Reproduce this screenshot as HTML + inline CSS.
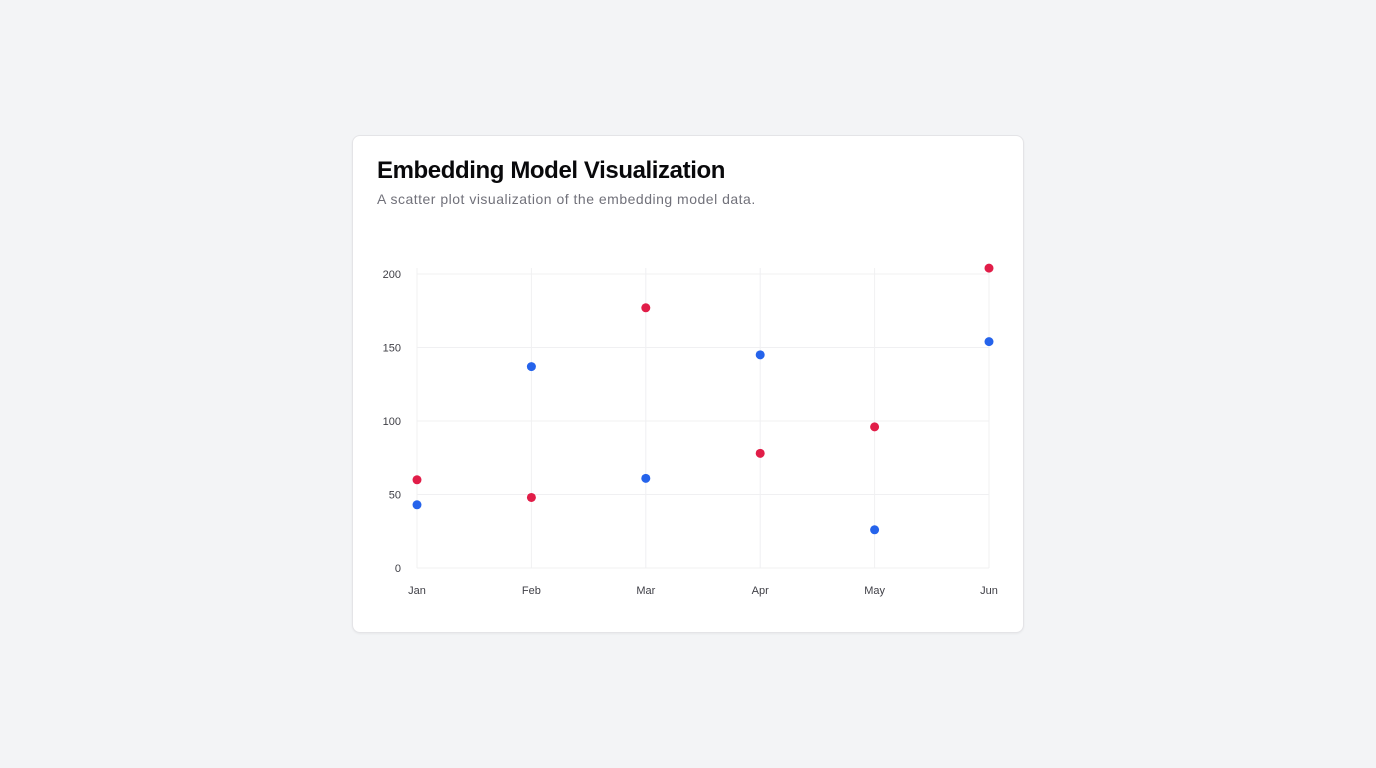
<!DOCTYPE html>
<html><head><meta charset="utf-8"><style>
body{margin:0;width:1376px;height:768px;background:#f3f4f6;font-family:"Liberation Sans",sans-serif;position:relative}
.card{position:absolute;left:352px;top:135px;width:670px;height:496px;background:#fff;border:1px solid #e4e4e7;border-radius:8px;box-shadow:0 1px 2px rgba(0,0,0,.05)}
h1{position:absolute;left:24px;top:21px;margin:0;font-size:24px;font-weight:bold;color:#09090b;letter-spacing:-0.4px}
p{position:absolute;left:24px;top:55px;margin:0;font-size:14px;color:#71717a;letter-spacing:0.5px}
svg{position:absolute;left:0;top:0}
</style></head><body>
<div class="card">
<h1>Embedding Model Visualization</h1>
<p>A scatter plot visualization of the embedding model data.</p>
<svg id="chart" width="670" height="496"></svg>
</div>
<script>
const categories=["Jan","Feb","Mar","Apr","May","Jun"];
const seriesA=[60,48,177,78,96,204];
const seriesB=[43,137,61,145,26,154];
const yTicks=[0,50,100,150,200];
const ox=353,oy=136;
const x0=417-ox,x1=989-ox,yb=568-oy,yt=274-oy;
const xs=i=>x0+(x1-x0)*i/(categories.length-1);
const ys=v=>yb-(yb-yt)*v/200;
const svg=document.getElementById('chart');
const NS='http://www.w3.org/2000/svg';
function mk(t,a){const e=document.createElementNS(NS,t);for(const k in a)e.setAttribute(k,a[k]);svg.appendChild(e);return e;}
yTicks.forEach(v=>{
 const l=mk('line',{x1:x0,x2:x1,y1:ys(v),y2:ys(v),stroke:'#f0f0f2','stroke-width':1});
 
 
 const t=mk('text',{x:x0-16,y:ys(v)+4,'text-anchor':'end','font-size':11,fill:'#3f3f46'});
 t.textContent=v;
 
 
});
categories.forEach((c,i)=>{
 const l=mk('line',{x1:xs(i),x2:xs(i),y1:yt-6,y2:yb,stroke:'#f0f0f2','stroke-width':1});
 
 
 const t=mk('text',{x:xs(i),y:yb+26,'text-anchor':'middle','font-size':11,fill:'#3f3f46'});
 t.textContent=c;
 
 
});
seriesA.forEach((v,i)=>{
 const d=mk('circle',{cx:xs(i),cy:ys(v),r:4.5,fill:'#e11d48'});
 
 
});
seriesB.forEach((v,i)=>{
 const d=mk('circle',{cx:xs(i),cy:ys(v),r:4.5,fill:'#2563eb'});
 
 
});
</script>
</body></html>
